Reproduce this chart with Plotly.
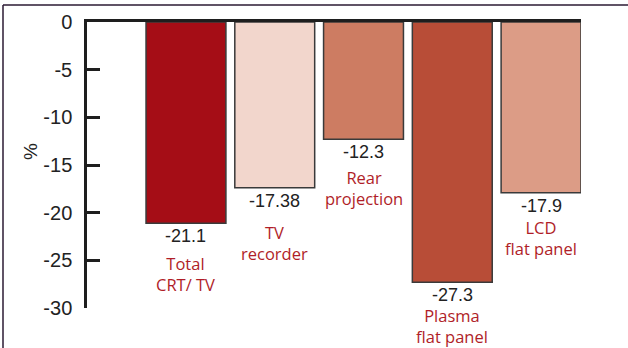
import plotly.graph_objects as go

categories = ["Total CRT/ TV", "TV recorder", "Rear projection", "Plasma flat panel", "LCD flat panel"]
label_lines = [["Total", "CRT/ TV"], ["TV", "recorder"], ["Rear", "projection"], ["Plasma", "flat panel"], ["LCD", "flat panel"]]
values = [-21.1, -17.38, -12.3, -27.3, -17.9]
value_text = ["-21.1", "-17.38", "-12.3", "-27.3", "-17.9"]
tick_vals = [0, -5, -10, -15, -20, -25, -30]
tick_text = ["0", "-5", "-10", "-15", "-20", "-25", "-30"]

bar_colors = ["#a50d16", "#f2d6cc", "#cd7c62", "#b84d37", "#dc9c86"]
cat_gap = [40, 44, 38, 33, 34]  # px below bar end to first label line (layout tweak)

W, H = 628, 348
L, R, T, B = 87, 47, 22, 40

fig = go.Figure()
fig.add_trace(go.Bar(
    x=list(range(len(categories))), y=values, width=0.9,
    marker=dict(color=bar_colors, line=dict(color="#3a3a3a", width=1.5)),
    hoverinfo="skip",
))

ann = []
for i, (v, t, lines, g) in enumerate(zip(values, value_text, label_lines, cat_gap)):
    ann.append(dict(x=i, y=v, xref="x", yref="y", text=t, showarrow=False,
                    yanchor="middle", yshift=-13,
                    font=dict(family="Liberation Sans, Arial", size=18, color="#222222")))
    ann.append(dict(x=i, y=v, xref="x", yref="y", text="<br>".join(lines), showarrow=False,
                    yanchor="middle", yshift=-(g + 11),
                    font=dict(family="Open Sans", size=16.5, color="#b01e28")))

pw = W - L - R
ph = H - T - B
ann.append(dict(x=(30 - L) / pw, y=(H - B - 152) / ph, xref="paper", yref="paper",
                xanchor="center", yanchor="middle",
                text="%", showarrow=False, textangle=-90,
                font=dict(family="Liberation Sans, Arial", size=19, color="#222222")))

shapes = [
    dict(type="line", xref="paper", yref="paper",
         x0=(3 - L) / pw, x1=(W + 5 - L) / pw, y0=(H - B - 5) / ph, y1=(H - B - 5) / ph,
         line=dict(color="#2b1a33", width=1.5)),
    dict(type="line", xref="paper", yref="paper",
         x0=(3 - L) / pw, x1=(3 - L) / pw, y0=(H - B - 5) / ph, y1=(H - B - H - 10) / ph,
         line=dict(color="#2b1a33", width=1.5)),
]

fig.update_layout(
    width=W, height=H,
    margin=dict(l=L, r=R, t=T, b=B, pad=0),
    paper_bgcolor="white", plot_bgcolor="white",
    showlegend=False,
    annotations=ann, shapes=shapes,
    xaxis=dict(range=[-1.115, 4.45], showgrid=False, zeroline=False,
               showticklabels=False, ticks="", side="top",
               showline=True, linecolor="#1e1e1e", linewidth=2.5, fixedrange=True),
    yaxis=dict(range=[-30, 0], tickvals=tick_vals, ticktext=tick_text,
               showgrid=False, zeroline=False,
               showline=True, linecolor="#1e1e1e", linewidth=2.5,
               ticks="inside", ticklen=13, tickwidth=2.5, tickcolor="#1e1e1e",
               ticklabelstandoff=8,
               tickfont=dict(family="Liberation Sans, Arial", size=20, color="#222222"),
               fixedrange=True),
)

fig.write_html("out.html")
